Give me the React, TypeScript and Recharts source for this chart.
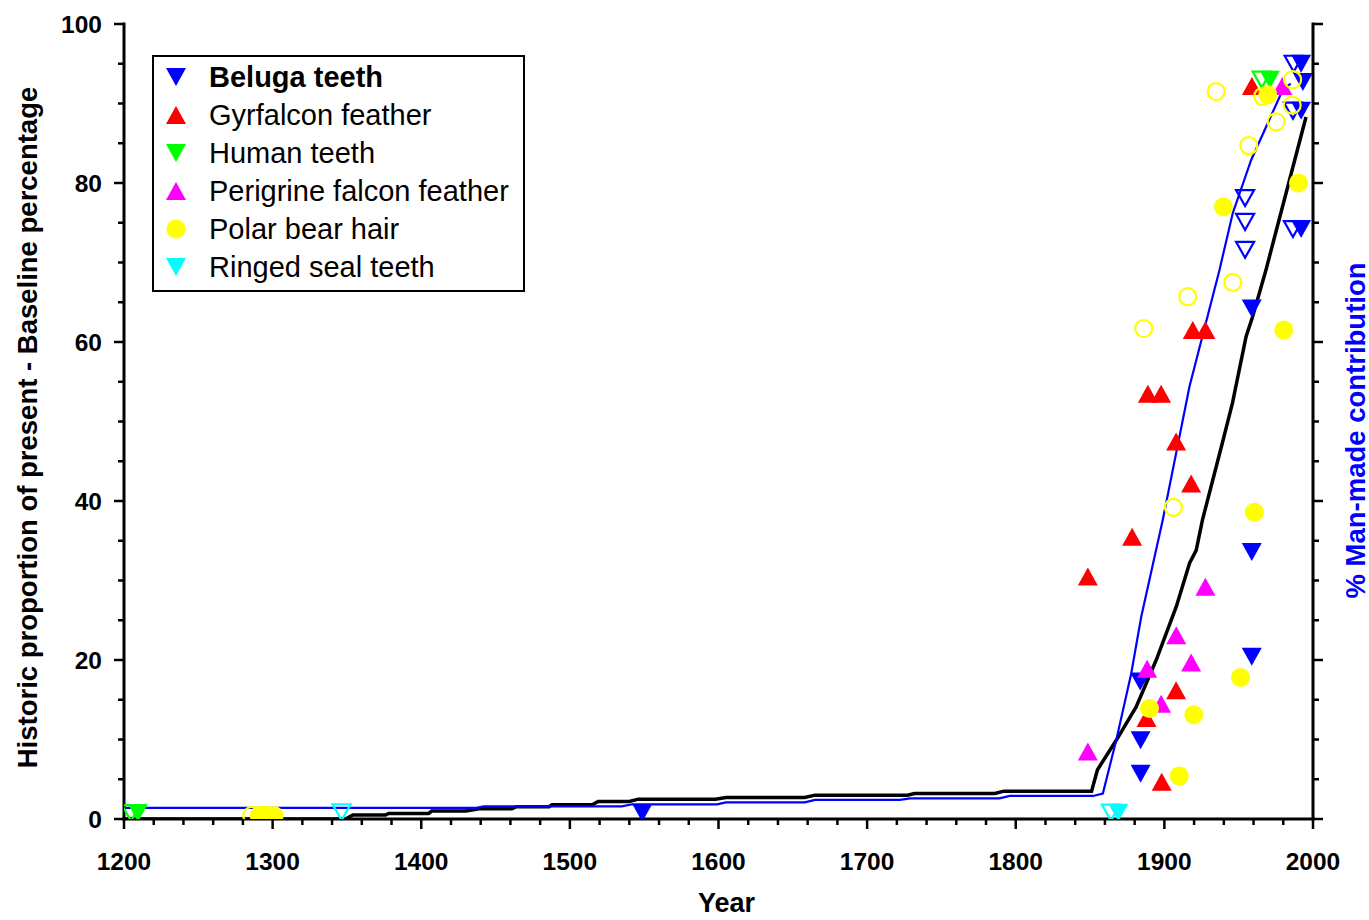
import React from 'react'
import { ComposedChart, Line, Scatter, XAxis, YAxis, Legend } from 'recharts'

type Pt = { year: number; pct: number }

const FONT = "'Liberation Sans', Arial, Helvetica, sans-serif"
const BLUE = '#0000ff'

// tick labels
const majorYears = [1200, 1300, 1400, 1500, 1600, 1700, 1800, 1900, 2000]
const majorPct = [0, 20, 40, 60, 80, 100]
const minorYears = Array.from({ length: 41 }, (_, i) => 1200 + i * 20)
const minorPct = Array.from({ length: 21 }, (_, i) => i * 5)

// black line: historic proportion of present
const historicLine: Pt[] = [
    { year: 1200, pct: 0 }, { year: 1349, pct: 0 }, { year: 1354, pct: 0.5 }, { year: 1376, pct: 0.5 },
    { year: 1378, pct: 0.7 }, { year: 1405, pct: 0.7 }, { year: 1407, pct: 1.0 }, { year: 1430, pct: 1.0 },
    { year: 1439, pct: 1.3 }, { year: 1461, pct: 1.3 }, { year: 1464, pct: 1.55 }, { year: 1486, pct: 1.55 },
    { year: 1488, pct: 1.8 }, { year: 1515, pct: 1.8 }, { year: 1519, pct: 2.2 }, { year: 1540, pct: 2.2 },
    { year: 1546, pct: 2.5 }, { year: 1598, pct: 2.5 }, { year: 1605, pct: 2.7 }, { year: 1658, pct: 2.7 },
    { year: 1665, pct: 3.0 }, { year: 1727, pct: 3.0 }, { year: 1732, pct: 3.2 }, { year: 1786, pct: 3.2 },
    { year: 1792, pct: 3.5 }, { year: 1851, pct: 3.5 }, { year: 1855, pct: 6.2 }, { year: 1867.6, pct: 9.9 },
    { year: 1881, pct: 14.1 }, { year: 1894.5, pct: 20 }, { year: 1908, pct: 26.7 }, { year: 1917, pct: 32.2 },
    { year: 1921.4, pct: 33.8 }, { year: 1925.6, pct: 37.6 }, { year: 1939, pct: 47.3 }, { year: 1945.8, pct: 52.3 },
    { year: 1955, pct: 60.7 }, { year: 1959.4, pct: 63.2 }, { year: 1968.4, pct: 69.1 }, { year: 1995.3, pct: 88.3 },
]

// blue line: % man-made contribution
const manMadeLine: Pt[] = [
    { year: 1200, pct: 1.4 }, { year: 1437, pct: 1.4 }, { year: 1442, pct: 1.6 }, { year: 1535, pct: 1.6 },
    { year: 1542, pct: 1.85 }, { year: 1599, pct: 1.85 }, { year: 1605, pct: 2.1 }, { year: 1658, pct: 2.1 },
    { year: 1665, pct: 2.4 }, { year: 1722, pct: 2.4 }, { year: 1729, pct: 2.6 }, { year: 1789, pct: 2.6 },
    { year: 1796, pct: 2.9 }, { year: 1852, pct: 2.9 }, { year: 1858.6, pct: 3.2 }, { year: 1867.6, pct: 9.9 },
    { year: 1877.7, pct: 18.3 }, { year: 1884.4, pct: 25.4 }, { year: 1898.9, pct: 37.6 }, { year: 1916.9, pct: 54.4 },
    { year: 1937, pct: 69 }, { year: 1946, pct: 76.2 }, { year: 1958.4, pct: 82.9 }, { year: 1979.6, pct: 91.7 },
    { year: 1985, pct: 92.5 },
]

const belugaFilled: Pt[] = [
    { year: 1548.7, pct: 0.75 }, { year: 1884, pct: 9.9 }, { year: 1884, pct: 5.7 }, { year: 1883.7, pct: 17.3 },
    { year: 1958.8, pct: 33.6 }, { year: 1958.8, pct: 20.4 }, { year: 1958.8, pct: 64.2 }, { year: 1992, pct: 95.0 },
    { year: 1993.2, pct: 92.7 }, { year: 1992, pct: 89.1 }, { year: 1992, pct: 74.2 },
]
const belugaOpen: Pt[] = [
    { year: 1954.3, pct: 78.1 }, { year: 1954.3, pct: 75.1 }, { year: 1954.3, pct: 71.6 },
    { year: 1987, pct: 95.0 }, { year: 1986.5, pct: 89.1 }, { year: 1986.5, pct: 74.2 },
]
const gyrfalcon: Pt[] = [
    { year: 1848.5, pct: 30.5 }, { year: 1878.3, pct: 35.5 }, { year: 1888.9, pct: 53.5 }, { year: 1897.8, pct: 53.5 },
    { year: 1907.9, pct: 47.5 }, { year: 1918, pct: 42.2 }, { year: 1919.1, pct: 61.5 }, { year: 1927.6, pct: 61.5 },
    { year: 1907.9, pct: 16.2 }, { year: 1888, pct: 12.7 }, { year: 1898.2, pct: 4.7 }, { year: 1958.9, pct: 92.2 },
]
const humanFilled: Pt[] = [{ year: 1209.4, pct: 0.75 }, { year: 1971, pct: 93.0 }]
const humanOpen: Pt[] = [{ year: 1204.7, pct: 0.75 }, { year: 1965.5, pct: 93.0 }]
const peregrine: Pt[] = [
    { year: 1848.5, pct: 8.5 }, { year: 1888.4, pct: 18.9 }, { year: 1897.8, pct: 14.5 }, { year: 1908, pct: 23.1 },
    { year: 1918, pct: 19.7 }, { year: 1927.6, pct: 29.2 }, { year: 1979.4, pct: 92.2 },
]
const polarFilled: Pt[] = [
    { year: 1291, pct: 0.45 }, { year: 1297, pct: 0.45 }, { year: 1301, pct: 0.45 }, { year: 1910, pct: 5.4 },
    { year: 1890, pct: 13.9 }, { year: 1919.8, pct: 13.1 }, { year: 1951.2, pct: 17.8 }, { year: 1960.6, pct: 38.6 },
    { year: 1980.3, pct: 61.5 }, { year: 1939.7, pct: 77.0 }, { year: 1990.2, pct: 80.0 }, { year: 1969.5, pct: 91.1 },
]
const polarOpen: Pt[] = [
    { year: 1286, pct: 0.45 }, { year: 1294, pct: 0.45 }, { year: 1906.1, pct: 39.2 }, { year: 1886.1, pct: 61.7 },
    { year: 1915.7, pct: 65.7 }, { year: 1946, pct: 67.5 }, { year: 1956.8, pct: 84.7 }, { year: 1975.2, pct: 87.7 },
    { year: 1934.8, pct: 91.5 }, { year: 1966.2, pct: 90.9 }, { year: 1986.3, pct: 93.0 }, { year: 1986, pct: 89.8 },
]
const sealFilled: Pt[] = [{ year: 1869, pct: 0.8 }]
const sealOpen: Pt[] = [{ year: 1346.4, pct: 0.85 }, { year: 1864, pct: 0.8 }]

const legendNames = ['Beluga teeth', 'Gyrfalcon feather', 'Human teeth', 'Perigrine falcon feather', 'Polar bear hair', 'Ringed seal teeth']
const legendColors = [BLUE, '#ff0000', '#00ff00', '#ff00ff', '#ffff00', '#00ffff']
const legendShapes = ['down', 'up', 'down', 'up', 'circle', 'down']

function markerSvg(kind: string, color: string, cx: number, cy: number, open = false) {
    const fill = open ? 'none' : color
    const stroke = open ? color : 'none'
    const sw = open ? 2.2 : 0
    if (kind === 'circle') {
        return <circle cx={cx} cy={cy} r={open ? 8.5 : 9.5} fill={fill} stroke={stroke} strokeWidth={sw} />
    }
    const w = open ? 9 : 10
    const h = open ? 8 : 9
    const pts = kind === 'down'
        ? `${cx - w},${cy - h} ${cx + w},${cy - h} ${cx},${cy + h}`
        : `${cx - w},${cy + h} ${cx + w},${cy + h} ${cx},${cy - h}`
    return <polygon points={pts} fill={fill} stroke={stroke} strokeWidth={sw} strokeLinejoin="miter" />
}

const shape = (kind: string, color: string, open = false) => (props: any) => {
    if (props.cx == null || props.cy == null) return <g />
    return markerSvg(kind, color, props.cx, props.cy, open)
}

const BottomTick = (p: any) => {
    const v = p.payload.value
    const major = majorYears.includes(v)
    return (
        <g>
            <line x1={p.x} x2={p.x} y1={p.y} y2={p.y + (major ? 10 : 6)} stroke="#000" strokeWidth={2.5} />
            {major && (
                <text x={p.x} y={p.y + 51} textAnchor="middle" fontFamily={FONT} fontWeight="bold" fontSize={24.5} fill="#000">
                    {v}
                </text>
            )}
        </g>
    )
}

const TopTick = (p: any) => {
    const major = majorYears.includes(p.payload.value)
    return <line x1={p.x} x2={p.x} y1={p.y} y2={p.y - (major ? 10 : 6)} stroke="#000" strokeWidth={2.5} />
}

const LeftTick = (p: any) => {
    const v = p.payload.value
    const major = majorPct.includes(v)
    return (
        <g>
            <line x1={p.x} x2={p.x - (major ? 10 : 6)} y1={p.y} y2={p.y} stroke="#000" strokeWidth={2.5} />
            {major && (
                <text x={p.x - 22} y={p.y + 8.5} textAnchor="end" fontFamily={FONT} fontWeight="bold" fontSize={24.5} fill="#000">
                    {v}
                </text>
            )}
        </g>
    )
}

const RightTick = (p: any) => {
    const major = majorPct.includes(p.payload.value)
    return <line x1={p.x} x2={p.x + (major ? 10 : 6)} y1={p.y} y2={p.y} stroke="#000" strokeWidth={2.5} />
}

const LegendBox = () => (
    <div
        style={{
            width: 369,
            height: 232,
            border: '2.5px solid #000',
            background: '#fff',
            boxSizing: 'content-box',
            paddingTop: 1,
            fontFamily: FONT,
        }}
    >
        {legendNames.map((name, i) => (
            <div key={name} style={{ height: 38, display: 'flex', alignItems: 'center' }}>
                <svg width={46} height={38} style={{ flex: 'none' }}>
                    {markerSvg(legendShapes[i], legendColors[i], 22, 19)}
                </svg>
                <span
                    style={{
                        marginLeft: 9,
                        fontSize: 29,
                        fontWeight: i === 0 ? 'bold' : 'normal',
                        color: '#000',
                        whiteSpace: 'nowrap',
                        lineHeight: '38px',
                    }}
                >
                    {name}
                </span>
            </div>
        ))}
    </div>
)

export default function App() {
    const axisLine = { stroke: '#000', strokeWidth: 3, strokeLinecap: 'square' as const }
    return (
        <div style={{ width: 1369, height: 920, background: '#fff' }}>
            <style>{'html,body{margin:0;padding:0;overflow:hidden;background:#fff}'}</style>
            <ComposedChart width={1369} height={920} margin={{ top: 24, right: 0, bottom: 0, left: 0 }}>
                <XAxis
                    xAxisId="x"
                    type="number"
                    dataKey="year"
                    domain={[1200, 2000]}
                    ticks={minorYears}
                    interval={0}
                    tickSize={0}
                    tickMargin={0}
                    tickLine={false}
                    tick={<BottomTick />}
                    axisLine={axisLine}
                    height={101}
                    allowDataOverflow
                    label={{
                        content: (lp: any) => (
                            <text
                                x={lp.viewBox.x + lp.viewBox.width / 2 + 8}
                                y={lp.viewBox.y + 93}
                                textAnchor="middle"
                                fontFamily={FONT}
                                fontWeight="bold"
                                fontSize={27}
                                fill="#000"
                            >
                                Year
                            </text>
                        ),
                    }}
                />
                <XAxis
                    xAxisId="top"
                    orientation="top"
                    type="number"
                    dataKey="year"
                    domain={[1200, 2000]}
                    ticks={minorYears}
                    interval={0}
                    tickSize={0}
                    tickMargin={0}
                    tickLine={false}
                    tick={<TopTick />}
                    axisLine={axisLine}
                    height={0}
                    allowDataOverflow
                />
                <YAxis
                    yAxisId="y"
                    type="number"
                    dataKey="pct"
                    domain={[0, 100]}
                    ticks={minorPct}
                    interval={0}
                    tickSize={0}
                    tickMargin={0}
                    tickLine={false}
                    tick={<LeftTick />}
                    axisLine={axisLine}
                    width={124}
                    allowDataOverflow
                    label={{
                        content: (lp: any) => {
                            const cx = lp.viewBox.x + 27
                            const cy = lp.viewBox.y + lp.viewBox.height / 2 + 6
                            return (
                                <text
                                    x={cx}
                                    y={cy}
                                    transform={`rotate(-90 ${cx} ${cy})`}
                                    textAnchor="middle"
                                    dominantBaseline="central"
                                    fontFamily={FONT}
                                    fontWeight="bold"
                                    fontSize={27.5}
                                    fill="#000"
                                >
                                    Historic proportion of present - Baseline percentage
                                </text>
                            )
                        },
                    }}
                />
                <YAxis
                    yAxisId="right"
                    orientation="right"
                    type="number"
                    domain={[0, 100]}
                    ticks={minorPct}
                    interval={0}
                    tickSize={0}
                    tickMargin={0}
                    tickLine={false}
                    tick={<RightTick />}
                    axisLine={axisLine}
                    width={56}
                    allowDataOverflow
                    label={{
                        content: (lp: any) => {
                            const cx = lp.viewBox.x + 42
                            const cy = lp.viewBox.y + lp.viewBox.height / 2 + 9
                            return (
                                <text
                                    x={cx}
                                    y={cy}
                                    transform={`rotate(-90 ${cx} ${cy})`}
                                    textAnchor="middle"
                                    dominantBaseline="central"
                                    fontFamily={FONT}
                                    fontWeight="bold"
                                    fontSize={27.5}
                                    fill={BLUE}
                                >
                                    % Man-made contribution
                                </text>
                            )
                        },
                    }}
                />
                <Legend
                    layout="horizontal"
                    verticalAlign="middle"
                    align="center"
                    content={() => <LegendBox />}
                    wrapperStyle={{ left: 152, top: 55, width: 'auto', height: 'auto' }}
                />

                <Line xAxisId="x" yAxisId="y" data={historicLine} dataKey="pct" type="linear" stroke="#000" strokeWidth={3.5}
                    dot={false} activeDot={false} legendType="none" isAnimationActive={false} />
                <Line xAxisId="x" yAxisId="y" data={manMadeLine} dataKey="pct" type="linear" stroke={BLUE} strokeWidth={2.2}
                    dot={false} activeDot={false} legendType="none" isAnimationActive={false} />

                <Scatter xAxisId="x" yAxisId="y" name="Beluga teeth" data={belugaFilled} dataKey="pct" shape={shape('down', BLUE)} isAnimationActive={false} />
                <Scatter xAxisId="x" yAxisId="y" data={belugaOpen} dataKey="pct" shape={shape('down', BLUE, true)} legendType="none" isAnimationActive={false} />
                <Scatter xAxisId="x" yAxisId="y" name="Gyrfalcon feather" data={gyrfalcon} dataKey="pct" shape={shape('up', '#ff0000')} isAnimationActive={false} />
                <Scatter xAxisId="x" yAxisId="y" name="Human teeth" data={humanFilled} dataKey="pct" shape={shape('down', '#00ff00')} isAnimationActive={false} />
                <Scatter xAxisId="x" yAxisId="y" data={humanOpen} dataKey="pct" shape={shape('down', '#00ff00', true)} legendType="none" isAnimationActive={false} />
                <Scatter xAxisId="x" yAxisId="y" name="Perigrine falcon feather" data={peregrine} dataKey="pct" shape={shape('up', '#ff00ff')} isAnimationActive={false} />
                <Scatter xAxisId="x" yAxisId="y" name="Polar bear hair" data={polarFilled} dataKey="pct" shape={shape('circle', '#ffff00')} isAnimationActive={false} />
                <Scatter xAxisId="x" yAxisId="y" data={polarOpen} dataKey="pct" shape={shape('circle', '#ffff00', true)} legendType="none" isAnimationActive={false} />
                <Scatter xAxisId="x" yAxisId="y" name="Ringed seal teeth" data={sealFilled} dataKey="pct" shape={shape('down', '#00ffff')} isAnimationActive={false} />
                <Scatter xAxisId="x" yAxisId="y" data={sealOpen} dataKey="pct" shape={shape('down', '#00ffff', true)} legendType="none" isAnimationActive={false} />
            </ComposedChart>
        </div>
    )
}
